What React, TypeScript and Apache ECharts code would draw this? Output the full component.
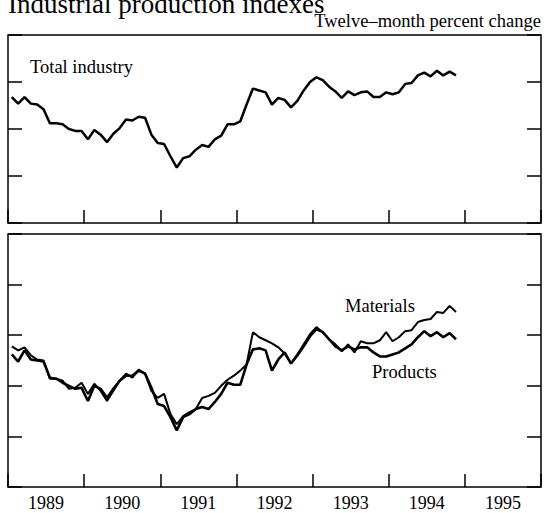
import React, { useEffect, useRef } from "react";
import * as echarts from "echarts";

// Monthly observations, Jan 1989 .. Nov 1994 (twelve-month percent change)
const START_YEAR = 1989;
const yearLabels = ["1989", "1990", "1991", "1992", "1993", "1994", "1995"];

const totalIndustry = [
  3.4, 2.7, 3.4, 2.7, 2.6, 2.1, 0.6, 0.6, 0.5, 0.0,
  -0.2, -0.2, -1.1, -0.1, -0.6, -1.4, -0.5, 0.1, 1.0, 0.9,
  1.3, 1.2, -0.6, -1.5, -1.6, -2.9, -4.1, -3.1, -2.9, -2.2,
  -1.7, -1.9, -1.1, -0.7, 0.5, 0.5, 0.8, 2.6, 4.3, 4.1,
  3.9, 2.6, 3.3, 3.1, 2.3, 3.0, 4.1, 5.0, 5.5, 5.2,
  4.5, 4.0, 3.3, 4.0, 3.6, 3.9, 4.0, 3.4, 3.4, 3.9,
  3.7, 3.9, 4.8, 4.9, 5.7, 6.0, 5.6, 6.2, 5.7, 6.1,
  5.7,
];

const materials = [
  3.9, 3.5, 3.8, 3.0, 2.6, 2.5, 0.7, 0.7, 0.5, -0.3,
  -0.2, 0.3, -0.8, 0.2, -0.5, -1.5, -0.5, 0.5, 1.2, 0.8,
  1.6, 1.2, -0.5, -1.2, -0.8, -2.8, -3.8, -3.0, -2.6, -2.3,
  -1.2, -1.0, -0.7, 0.0, 0.6, 1.0, 1.5, 2.1, 5.3, 4.8,
  4.5, 4.2, 3.8, 3.2, 2.2, 3.1, 4.1, 5.1, 5.8, 5.3,
  4.6, 4.1, 3.4, 4.1, 3.3, 4.4, 4.2, 4.2, 4.5, 5.3,
  4.4, 4.8, 5.4, 5.5, 6.3, 6.5, 6.6, 7.3, 7.2, 7.9,
  7.3,
];

const products = [
  3.1, 2.4, 3.5, 2.6, 2.5, 2.4, 0.8, 0.7, 0.3, 0.0,
  -0.3, -0.2, -1.5, 0.0, -0.3, -1.2, -0.3, 0.5, 1.0, 1.0,
  1.5, 1.2, -0.2, -1.8, -2.0, -3.1, -4.4, -3.1, -2.8, -2.3,
  -2.1, -2.3, -1.6, -0.8, 0.3, 0.1, 0.1, 2.1, 3.6, 3.7,
  3.5, 1.5, 2.6, 3.3, 2.2, 3.0, 3.9, 4.9, 5.6, 5.3,
  4.6, 3.9, 3.5, 3.9, 3.6, 3.8, 3.8, 3.3, 2.9, 2.9,
  3.1, 3.3, 3.7, 4.1, 4.8, 5.4, 4.9, 5.3, 4.8, 5.2,
  4.6,
];

const SERIF = '"Liberation Serif", "Times New Roman", serif';

const toPoints = (vals: number[]) =>
  vals.map((v, i) => [START_YEAR + (i + 0.6) / 12, v]);

export default function App() {
  const ref = useRef<HTMLDivElement>(null);

  useEffect(() => {
    if (!ref.current) return;
    const chart = echarts.init(ref.current, null, { renderer: "svg" });

    const gridL = 8;
    const gridR = 6;

    const valueX = (gridIndex: number) => ({
      type: "value",
      gridIndex,
      min: 1989,
      max: 1996,
      interval: 1,
      position: "bottom",
      axisLine: { show: false, onZero: false },
      axisTick: { show: true, inside: true, length: 13, lineStyle: { color: "#000", width: 1.5 } },
      axisLabel: { show: false },
      splitLine: { show: false },
    });

    const valueY = (gridIndex: number, position: string, min: number, max: number) => ({
      type: "value",
      gridIndex,
      position,
      min,
      max,
      interval: 5,
      axisLine: { show: false, onZero: false },
      axisTick: { show: true, inside: true, length: 14, lineStyle: { color: "#000", width: 1.5 } },
      axisLabel: { show: false },
      splitLine: { show: false },
    });

    const textEl = (text: string, x: number, y: number, size: number, align = "left") => ({
      type: "text",
      x,
      y,
      silent: true,
      style: {
        text,
        font: `${size}px ${SERIF}`,
        fill: "#000",
        textAlign: align,
        align,
        textVerticalAlign: "middle",
        verticalAlign: "middle",
      },
    });

    chart.setOption({
      animation: false,
      backgroundColor: "#fff",
      grid: [
        { left: gridL, right: gridR, top: 35, height: 188, show: true, borderColor: "#000", borderWidth: 1.5, backgroundColor: "transparent" },
        { left: gridL, right: gridR, top: 234, height: 253, show: true, borderColor: "#000", borderWidth: 1.5, backgroundColor: "transparent" },
      ],
      xAxis: [
        valueX(0),
        valueX(1),
        {
          type: "category",
          gridIndex: 1,
          position: "bottom",
          data: yearLabels,
          axisLine: { show: false, onZero: false },
          axisTick: { show: false },
          axisLabel: { show: true, color: "#000", fontSize: 18, fontFamily: SERIF, margin: 7 },
          splitLine: { show: false },
        },
      ],
      yAxis: [
        valueY(0, "left", -10, 10),
        valueY(0, "right", -10, 10),
        valueY(1, "left", -10, 15),
        valueY(1, "right", -10, 15),
      ],
      series: [
        {
          name: "Total industry",
          type: "line",
          xAxisIndex: 0,
          yAxisIndex: 0,
          data: toPoints(totalIndustry),
          symbol: "none",
          lineStyle: { color: "#000", width: 2.5 },
        },
        {
          name: "Materials",
          type: "line",
          xAxisIndex: 1,
          yAxisIndex: 2,
          data: toPoints(materials),
          symbol: "none",
          lineStyle: { color: "#000", width: 2 },
        },
        {
          name: "Products",
          type: "line",
          xAxisIndex: 1,
          yAxisIndex: 2,
          data: toPoints(products),
          symbol: "none",
          lineStyle: { color: "#000", width: 2.6 },
        },
      ],
      graphic: [
        textEl("Industrial production indexes", 8, 4, 27),
        textEl("Twelve\u2013month percent change", 541, 21, 18.5, "right"),
        textEl("Total industry", 30, 67, 18.5),
        textEl("Materials", 345, 306, 18.5),
        textEl("Products", 372, 372, 18.5),
      ],
    });

    return () => chart.dispose();
  }, []);

  return <div ref={ref} style={{ width: 547, height: 513, position: "absolute", left: 0, top: 0 }} />;
}
